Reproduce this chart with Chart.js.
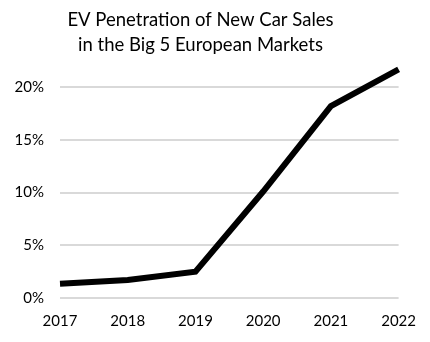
<!DOCTYPE html>
<html>
<head>
<meta charset="utf-8">
<script src="https://cdn.jsdelivr.net/npm/chart.js@4"></script>
<style>
  html, body { margin: 0; padding: 0; background: #fff; }
  #wrap { width: 430px; height: 342px; position: relative; }
</style>
</head>
<body>
<div id="wrap"><canvas id="evChart"></canvas></div>
<script>
// chart data
const years = ['2017', '2018', '2019', '2020', '2021', '2022'];
const evShare = [1.35, 1.7, 2.5, 10.1, 18.2, 21.7];
const yTicks = [0, 5, 10, 15, 20];
const titleLines = ['EV Penetration of New Car Sales', 'in the Big 5 European Markets'];

const fontFamily = 'Lato, "Open Sans", sans-serif';

new Chart(document.getElementById('evChart'), {
    type: 'line',
    data: {
        labels: years,
        datasets: [{
            data: evShare,
            borderColor: '#000',
            borderWidth: 6,
            pointRadius: 0,
            tension: 0,
            clip: false
        }]
    },
    options: {
        responsive: true,
        maintainAspectRatio: false,
        animation: false,
        layout: { padding: { left: 0, right: 29, top: 4, bottom: -2 } },
        plugins: {
            legend: { display: false },
            tooltip: { enabled: false },
            title: {
                display: true,
                text: titleLines,
                color: '#000',
                font: { family: fontFamily, size: 18.5, weight: 'normal', lineHeight: 1.35 },
                padding: { top: 4, bottom: 5 }
            }
        },
        scales: {
            x: {
                offset: false,
                grid: { display: false, drawTicks: false },
                border: { display: false },
                ticks: {
                    color: '#000',
                    padding: 14,
                    maxRotation: 0,
                    font: { family: fontFamily, size: 15 }
                }
            },
            y: {
                min: 0,
                max: 22.3,
                afterBuildTicks: scale => {
                    scale.ticks = yTicks.map(v => ({ value: v }));
                },
                afterFit: scale => { scale.width = 60; },
                grid: { color: '#d9d9d9', lineWidth: 2, drawTicks: false },
                border: { display: false },
                ticks: {
                    color: '#000',
                    padding: 16,
                    font: { family: fontFamily, size: 15 },
                    callback: v => v + '%'
                }
            }
        }
    }
});
</script>
</body>
</html>
